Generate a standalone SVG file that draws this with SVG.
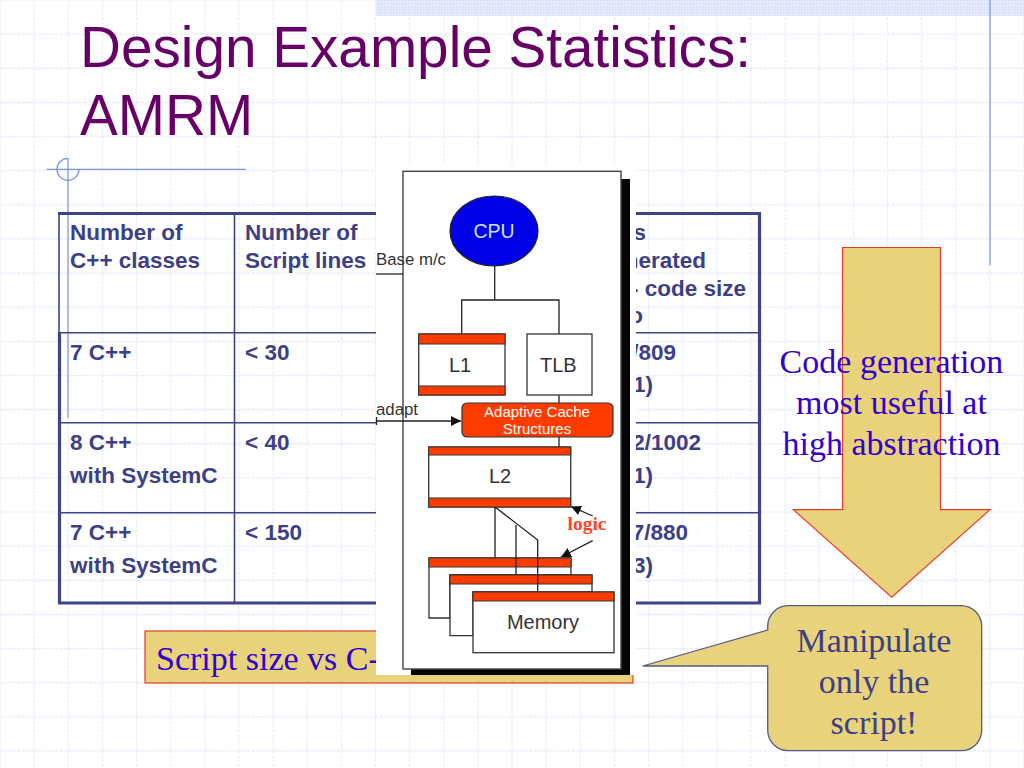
<svg xmlns="http://www.w3.org/2000/svg" width="1024" height="768" viewBox="0 0 1024 768">
<style>
.tbl{fill:none;stroke:#3f4388}
.th{font:bold 22.5px "Liberation Sans",Arial,sans-serif;fill:#3d4085}
.ser{font-family:"Liberation Serif","Times New Roman",serif;font-size:34px;text-anchor:middle}
.blue{fill:#3300cc}
.navy{fill:#3d4085}
.title{font:56.700px "Liberation Sans",Arial,sans-serif;fill:#660066}
.box{fill:#fff;stroke:#333;stroke-width:1.3}
.band{fill:#ff3c00;stroke:#333;stroke-width:1}
.lbl{font-family:"Liberation Sans",Arial,sans-serif;fill:#333;text-anchor:middle;font-size:20px}
.ln{fill:none;stroke:#222;stroke-width:1.3}
.tan{fill:#e8d27c;stroke:#e63a2a;stroke-width:1.2}
.deco{fill:none;stroke:#7f92e0;stroke-width:1.2}
</style>
<defs>
<pattern id="grid" patternUnits="userSpaceOnUse" x="17.07" y="17.07" width="34.133" height="34.133">
<path d="M17.07 0V34.133M0 17.07H34.133" fill="none" stroke="#e8ebf9" stroke-width="1.3" stroke-dasharray="3 1.27"/>
</pattern>
<pattern id="dots" patternUnits="userSpaceOnUse" width="3" height="3">
<rect width="3" height="3" fill="#e6ebfc"/><rect width="1.5" height="1.5" fill="#d3dcf8"/>
</pattern>
<marker id="ah" markerUnits="userSpaceOnUse" markerWidth="11" markerHeight="10" refX="10" refY="5" orient="auto">
<path d="M0 0L10 5L0 10Z" fill="#111"/>
</marker>
</defs>
<rect id="background" width="1024" height="768" fill="#fff"/>
<rect id="grid-lines" width="1024" height="768" fill="url(#grid)"/>
<rect id="top-band" x="376" y="0" width="648" height="16" fill="url(#dots)"/>
<g id="decoration">
<path class="deco" d="M990 0V265" stroke-width="1.5"/>
<path class="deco" d="M46.500 169.300H246M68 158V418"/>
<path class="deco" d="M68 158.300A11 11 0 1 0 79 169.300"/>
</g>
<g id="title">
<text class="title" x="80" y="67">Design Example Statistics:</text>
<text class="title" x="80" y="135">AMRM</text>
</g>
<g id="table">
<path class="tbl" stroke-width="1.600" d="M234.500 213V603M59 213V333M60 332.700H759M60 422.700H759M60 512.700H759"/>
<path class="tbl" stroke-width="3.200" d="M58 213.500H759.500V603H59.500V332"/>
<text class="th" x="70" y="240">Number of</text>
<text class="th" x="70" y="268">C++ classes</text>
<text class="th" x="245" y="240">Number of</text>
<text class="th" x="245" y="268">Script lines</text>
<text class="th" x="70" y="360">7 C++</text>
<text class="th" x="245" y="360">&lt; 30</text>
<text class="th" x="70" y="450">8 C++</text>
<text class="th" x="70" y="483">with SystemC</text>
<text class="th" x="245" y="450">&lt; 40</text>
<text class="th" x="70" y="540">7 C++</text>
<text class="th" x="70" y="573">with SystemC</text>
<text class="th" x="245" y="540">&lt; 150</text>
<g text-anchor="end">
<text class="th" x="646" y="240">s</text>
<text class="th" x="706" y="268">nerated</text>
<text class="th" x="746" y="296">- code size</text>
<text class="th" x="643" y="323">o</text>
<text class="th" x="676" y="360">/809</text>
<text class="th" x="653" y="392">1)</text>
<text class="th" x="701" y="450">2/1002</text>
<text class="th" x="653" y="483">1)</text>
<text class="th" x="688" y="540">7/880</text>
<text class="th" x="653" y="573">3)</text>
</g>
</g>
<g id="script-size">
<rect class="tan" x="145" y="631" width="488" height="52"/>
<text class="ser blue" x="156" y="670" style="text-anchor:start">Script size vs C-</text>
</g>
<g id="big-arrow">
<path class="tan" d="M842.500 247.500H940.500V509.700H990L891.700 597.300L793.300 509.700H842.500Z"/>
<text class="ser blue" x="891.500" y="373">Code generation</text>
<text class="ser blue" x="891.500" y="414">most useful at</text>
<text class="ser blue" x="891.500" y="455">high abstraction</text>
</g>
<g id="callout">
<path d="M788 605.700H961A20.500 20.500 0 0 1 981.700 626V730A20.500 20.500 0 0 1 961 750.700H788A20.500 20.500 0 0 1 767.700 730V666H642.700L767.700 630V626A20.500 20.500 0 0 1 788 605.700Z" fill="#e8d27c" stroke="#555a88" stroke-width="1.300"/>
<text class="ser navy" x="874" y="652">Manipulate</text>
<text class="ser navy" x="874" y="693">only the</text>
<text class="ser navy" x="874" y="734">script!</text>
</g>
<g id="figure">
<rect x="376" y="165" width="260" height="510" fill="#fff"/>
<path d="M621 179H630V675H411V668H621Z" fill="#050505"/>
<rect x="403" y="171.300" width="218" height="497.700" fill="#fff" stroke="#444" stroke-width="1.400"/>
<g id="connectors">
<path class="ln" d="M494.700 266V300M461.700 334V300H559V334M559 395V403M559 437V447"/>
<path class="ln" d="M376 274H403"/>
<path class="ln" d="M376 421H461" marker-end="url(#ah)"/>
<path class="ln" d="M376.500 417V425"/>
<path class="ln" d="M495 507V558M495 507L537.700 540V592M516 525V575"/>
<path class="ln" d="M592.700 516L571 506.500" marker-end="url(#ah)"/>
<path class="ln" d="M592.700 540.700L561 557" marker-end="url(#ah)"/>
</g>
<g id="cpu">
<ellipse cx="494" cy="231" rx="44" ry="35" fill="#0000e6" stroke="#222" stroke-width="1.200"/>
<text class="lbl" x="494" y="237.700" style="fill:#cfe0ff;font-size:19.500px">CPU</text>
</g>
<g id="l1">
<rect class="box" x="418.700" y="334" width="86.300" height="61"/>
<rect class="band" x="418.700" y="334" width="86.300" height="10"/>
<rect class="band" x="418.700" y="386" width="86.300" height="9"/>
<text class="lbl" x="460" y="372">L1</text>
</g>
<g id="tlb">
<rect class="box" x="527" y="334" width="65" height="61"/>
<text class="lbl" x="558.300" y="372">TLB</text>
</g>
<g id="adaptive">
<rect x="462" y="403" width="151" height="34" rx="5" fill="#ff3c00" stroke="#333" stroke-width="1.200"/>
<text class="lbl" x="537" y="417" style="fill:#fff;font-size:15px">Adaptive Cache</text>
<text class="lbl" x="537" y="434" style="fill:#fff;font-size:15px">Structures</text>
</g>
<g id="l2">
<rect class="box" x="428.700" y="447" width="142" height="60"/>
<rect class="band" x="428.700" y="447" width="142" height="8"/>
<rect class="band" x="428.700" y="498" width="142" height="9"/>
<text class="lbl" x="500" y="483.300">L2</text>
</g>
<g id="memory-1">
<path class="box" d="M429 558H571V575H450V618H429Z"/>
<rect class="band" x="429" y="558" width="142" height="9"/>
</g>
<g id="memory-2">
<path class="box" d="M450 575H592V592H473V635.700H450Z"/>
<rect class="band" x="450" y="575" width="142" height="9"/>
</g>
<g id="memory-3">
<rect class="box" x="473" y="592" width="141" height="60.700"/>
<rect class="band" x="473" y="592" width="141" height="9"/>
<text class="lbl" x="543" y="629">Memory</text>
</g>
<path class="ln" d="M516 558V575M537.700 558V592"/>
<text class="lbl" x="376" y="265" style="text-anchor:start;font-size:16.800px">Base m/c</text>
<text class="lbl" x="376" y="415" style="text-anchor:start;font-size:16.800px">adapt</text>
<text x="587" y="530" text-anchor="middle" font-family="Liberation Serif,serif" font-weight="bold" font-size="19.500" fill="#ff4422">logic</text>
</g>
</svg>
